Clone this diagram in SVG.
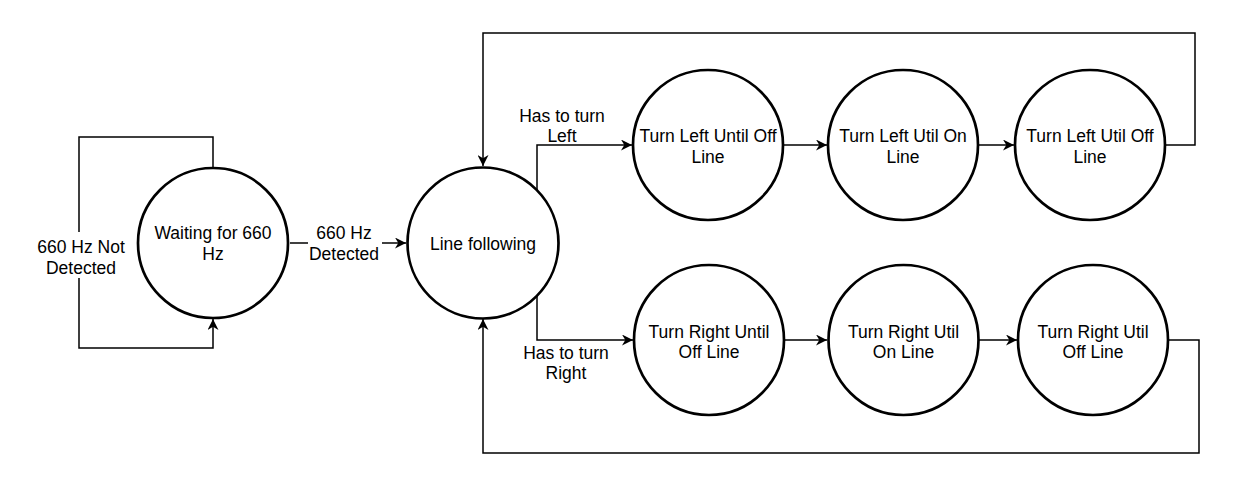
<svg xmlns="http://www.w3.org/2000/svg" width="1248" height="496" viewBox="0 0 1248 496">
<style>
.node{fill:#fff;stroke:#000;stroke-width:2.7}
.edge{fill:none;stroke:#000;stroke-width:1.5}
text{font-family:"Liberation Sans",Arial,sans-serif;font-size:17.5px;fill:#000;text-anchor:middle}
</style>
<defs>
<marker id="arr" viewBox="0 0 10 10" refX="10" refY="5" markerWidth="11" markerHeight="11" markerUnits="userSpaceOnUse" orient="auto">
<path d="M0,0 L10,5 L0,10 L3,5 z" fill="#000"/>
</marker>
</defs>
<rect width="1248" height="496" fill="#fff"/>
<g id="connectors">
<path class="edge" d="M213,167 V137 H79 V348 H213 V319" marker-end="url(#arr)"/>
<path class="edge" d="M290,243 H406" marker-end="url(#arr)"/>
<path class="edge" d="M537,190 V145 H632" marker-end="url(#arr)"/>
<path class="edge" d="M537,295 V340 H633" marker-end="url(#arr)"/>
<path class="edge" d="M783,145 H827" marker-end="url(#arr)"/>
<path class="edge" d="M978,145 H1014" marker-end="url(#arr)"/>
<path class="edge" d="M784,340 H827" marker-end="url(#arr)"/>
<path class="edge" d="M979,340 H1017" marker-end="url(#arr)"/>
<path class="edge" d="M1165,145 H1195 V33 H483 V166" marker-end="url(#arr)"/>
<path class="edge" d="M1168,340 H1199 V453 H483 V319" marker-end="url(#arr)"/>
<rect x="40" y="232" width="84" height="46" fill="#fff"/>
<text x="81" y="253">660 Hz Not</text>
<text x="81" y="274">Detected</text>
<rect x="308" y="224" width="74" height="42" fill="#fff"/>
<text x="344" y="239">660 Hz</text>
<text x="344" y="260">Detected</text>
<text x="562" y="122">Has to turn</text>
<text x="562" y="142">Left</text>
<text x="566" y="359">Has to turn</text>
<text x="566" y="379">Right</text>
</g>
<g id="waiting">
<circle class="node" cx="213" cy="243" r="75"/>
<text x="213" y="239">Waiting for 660</text>
<text x="213" y="260">Hz</text>
</g>
<g id="line-following">
<circle class="node" cx="483" cy="243" r="75.5"/>
<text x="483" y="250">Line following</text>
</g>
<g id="left1">
<circle class="node" cx="708" cy="145" r="75"/>
<text x="708" y="142">Turn Left Until Off</text>
<text x="708" y="163">Line</text>
</g>
<g id="left2">
<circle class="node" cx="903" cy="145" r="75"/>
<text x="903" y="142">Turn Left Util On</text>
<text x="903" y="163">Line</text>
</g>
<g id="left3">
<circle class="node" cx="1090" cy="145" r="75"/>
<text x="1090" y="142">Turn Left Util Off</text>
<text x="1090" y="163">Line</text>
</g>
<g id="right1">
<circle class="node" cx="709" cy="340" r="75"/>
<text x="709" y="338">Turn Right Until</text>
<text x="709" y="358">Off Line</text>
</g>
<g id="right2">
<circle class="node" cx="903.5" cy="340" r="75"/>
<text x="903.5" y="338">Turn Right Util</text>
<text x="903.5" y="358">On Line</text>
</g>
<g id="right3">
<circle class="node" cx="1093" cy="340" r="75"/>
<text x="1093" y="338">Turn Right Util</text>
<text x="1093" y="358">Off Line</text>
</g>
</svg>
